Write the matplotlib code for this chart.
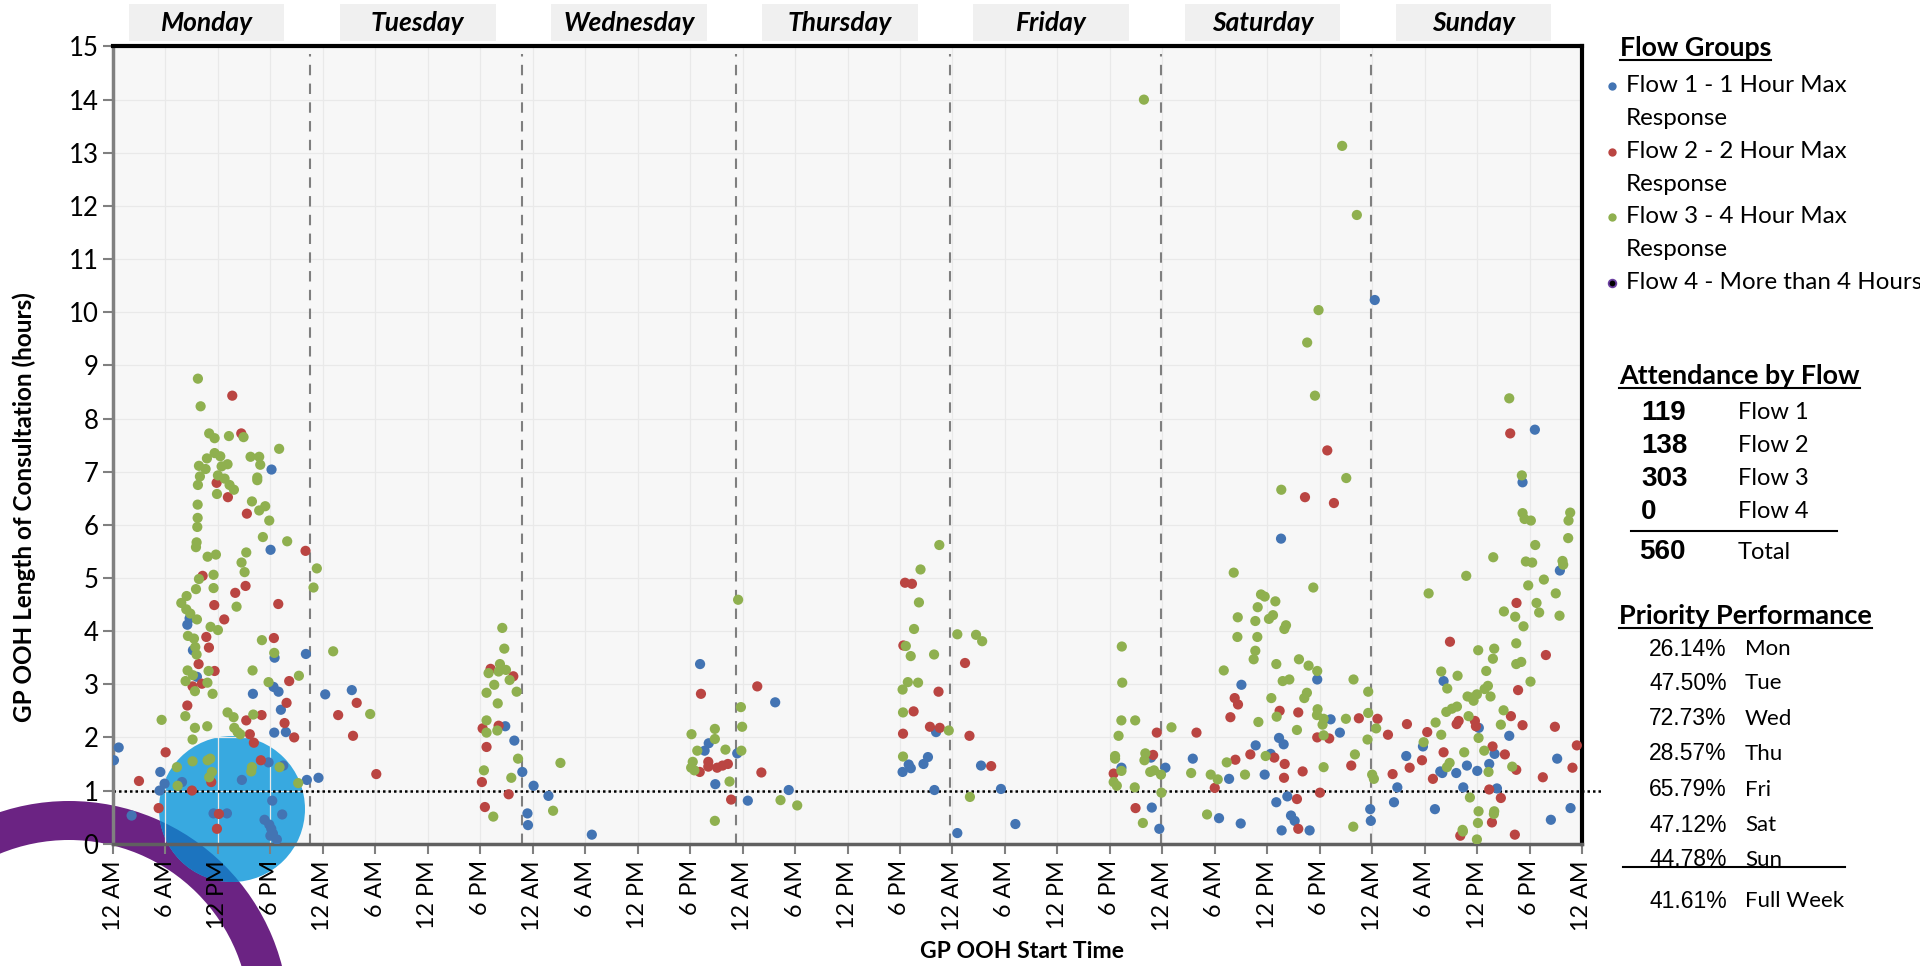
import matplotlib
matplotlib.use("Agg")
import matplotlib.pyplot as plt
from matplotlib.patches import Circle, Wedge, Rectangle
from matplotlib.lines import Line2D
from matplotlib.transforms import blended_transform_factory, IdentityTransform

plt.rcParams['font.family'] = ['Lato', 'DejaVu Sans']

# ---------------- data (start hour within the week, consultation length in hours) -------------
flow1 = [(0.11,1.57),(0.65,1.81),(2.13,0.53),(5.33,1.0),(5.41,1.35),(5.9,1.13),(7.89,1.16),(8.5,4.12),(8.76,4.24),
         (9.14,3.64),(9.6,3.14),(11.5,0.57),(13.03,0.57),(14.74,1.20),(16.0,2.82),(17.33,0.45),(17.79,1.53),(17.87,0.36),
         (18.0,0.15),(18.02,5.53),(18.1,0.28),(18.13,7.04),(18.21,0.81),(18.29,0.19),(18.36,2.95),(18.44,2.09),(18.48,3.50),
         (18.74,0.08),(18.93,2.86),(19.2,2.52),(19.35,0.55),(19.47,1.47),(19.77,2.10),(22.06,3.57),(22.17,1.20),(23.5,1.24),
         (24.27,2.81),(27.31,2.89),(44.86,2.21),(45.9,1.94),(46.81,1.35),(47.4,0.57),(47.46,0.35),(48.1,1.09),(49.8,0.90),
         (54.76,0.17),(67.14,3.38),(67.66,1.75),(68.13,1.89),(68.88,1.12),(71.39,1.70),(72.6,0.81),(75.73,2.66),(77.28,1.01),
         (90.3,1.35),(91.0,1.49),(91.24,1.42),(92.69,1.50),(93.2,1.63),(93.94,1.01),(94.13,2.10),(96.56,0.20),(99.27,1.47),
         (101.55,1.03),(103.2,0.37),(115.33,1.43),(118.71,1.62),(118.8,0.68),(119.66,0.28),(120.36,1.43),(123.49,1.60),
         (126.49,0.48),(127.64,1.22),(128.97,0.38),(129.05,2.99),(130.68,1.85),(131.71,1.30),(132.39,1.69),(133.04,0.78),
         (133.35,1.99),(133.58,5.74),(133.65,0.25),(133.88,1.87),(134.3,0.89),(134.72,0.53),(135.14,0.43),(136.85,0.25),
         (137.72,3.09),(139.25,2.34),(140.31,2.09),(143.78,0.65),(143.85,0.43),(144.3,10.23),(146.5,0.78),(146.88,1.06),
         (147.9,1.65),(149.81,1.83),(151.18,0.65),(151.79,1.36),(152.02,1.33),(152.17,3.06),(153.62,1.33),(154.42,1.06),
         (154.84,1.47),(156.02,1.37),(156.2,2.18),(157.39,1.50),(158.0,1.69),(158.27,1.04),(159.68,2.03),(161.2,6.80),
         (162.61,7.79),(164.44,0.45),(165.16,1.60),(165.47,5.14),(166.69,0.67)]

flow2 = [(2.97,1.18),(5.22,0.67),(6.02,1.72),(8.5,2.60),(9.03,1.0),(9.1,2.96),(9.79,3.38),(10.17,3.01),(10.25,5.04),
         (10.67,3.89),(10.97,3.69),(11.24,1.16),(11.58,4.49),(11.62,3.25),(11.85,6.79),(11.89,0.28),(12.11,0.56),(12.72,4.22),
         (13.14,6.52),(13.64,8.43),(13.98,4.72),(14.67,7.72),(15.16,4.85),(15.24,2.32),(15.31,6.21),(15.65,2.06),(16.11,1.90),
         (16.91,1.57),(16.99,2.42),(18.4,3.87),(18.9,4.51),(19.62,2.27),(19.85,2.65),(20.15,3.06),(20.72,2.0),(22.02,5.51),
         (25.75,2.42),(27.45,2.03),(27.87,2.65),(30.11,1.31),(42.19,1.16),(42.27,2.17),(42.53,0.69),(42.72,1.82),(43.18,3.29),
         (44.1,2.22),(45.25,0.93),(45.78,3.15),(67.1,1.35),(67.24,2.82),(68.08,1.54),(68.08,1.45),(69.09,1.43),(69.71,1.47),
         (70.32,1.50),(70.69,0.83),(73.68,2.96),(74.15,1.34),(90.35,2.07),(90.39,3.73),(90.58,4.91),(91.37,4.89),(91.56,2.49),
         (93.43,2.20),(94.41,2.86),(94.55,2.18),(97.44,3.40),(97.95,2.03),(100.43,1.46),(114.44,1.32),(116.94,0.67),
         (118.95,1.67),(119.37,2.09),(123.91,2.09),(126.0,1.05),(127.79,2.38),(128.28,2.74),(128.36,1.58),(128.66,2.62),
         (130.07,1.68),(132.81,1.62),(133.42,2.50),(133.92,1.24),(134.0,1.50),(135.4,0.84),(135.55,2.47),(135.55,0.28),
         (136.05,1.36),(136.32,6.52),(137.72,2.0),(138.03,0.96),(138.87,7.40),(139.09,1.98),(139.63,6.41),(141.61,1.47),
         (142.48,2.36),(144.61,2.35),(145.81,2.05),(146.34,1.31),(147.98,2.25),(148.29,1.43),(149.7,1.57),(150.3,2.10),
         (150.95,1.22),(152.17,1.72),(152.9,3.80),(153.66,2.25),(153.89,2.31),(154.08,0.15),(155.75,2.31),(155.87,2.21),
         (157.39,1.02),(157.7,0.40),(157.77,1.83),(158.72,0.86),(159.18,1.68),(159.79,7.72),(159.87,2.40),(160.32,0.17),
         (160.48,1.39),(160.51,4.53),(160.69,2.89),(161.2,2.23),(163.52,1.25),(163.87,3.55),(164.9,2.20),(166.91,1.43),
         (167.41,1.85)]

flow3 = [(9.71,8.75),(10.02,8.23),(11.0,7.72),(11.62,7.63),(13.26,7.67),(14.93,7.65),(19.0,7.43),(11.62,7.35),(12.27,7.29),
         (10.74,7.25),(9.83,7.11),(10.59,7.05),(12.42,7.10),(13.1,7.14),(15.73,7.28),(16.72,7.28),(16.84,7.13),(9.94,6.91),
         (12.0,6.93),(12.76,6.87),(16.5,6.89),(16.5,6.84),(9.71,6.75),(13.33,6.75),(13.83,6.66),(11.89,6.58),(9.68,6.38),
         (15.89,6.44),(16.72,6.27),(17.41,6.35),(9.68,6.13),(9.64,5.96),(17.87,6.08),(17.14,5.77),(19.92,5.69),(9.56,5.67),
         (9.49,5.58),(10.82,5.40),(11.77,5.44),(15.24,5.48),(14.70,5.29),(15.05,5.11),(9.83,4.98),(11.5,5.06),(11.5,4.81),
         (9.49,4.79),(8.42,4.66),(7.81,4.53),(8.38,4.41),(8.84,4.33),(9.6,4.22),(14.13,4.46),(11.16,4.08),(12.0,4.02),
         (8.57,3.91),(9.26,3.86),(9.41,3.70),(9.56,3.56),(17.03,3.83),(18.44,3.59),(8.53,3.26),(9.14,3.17),(10.93,3.25),
         (8.3,3.06),(10.8,3.03),(9.37,2.87),(11.39,2.82),(15.96,3.26),(17.79,3.04),(21.26,3.16),(25.18,3.62),(23.31,5.18),
         (22.93,4.82),(5.56,2.33),(8.27,2.40),(9.37,2.18),(10.78,2.21),(9.1,1.96),(13.1,2.47),(13.79,2.38),(16.04,2.43),
         (13.87,2.18),(14.25,2.10),(14.55,2.06),(7.31,1.44),(9.1,1.55),(10.82,1.57),(11.12,1.60),(11.31,1.35),(11.0,1.25),
         (7.39,1.09),(15.89,1.44),(15.81,1.36),(19.05,1.44),(21.18,1.14),
         (29.41,2.44),(44.52,4.06),(44.75,3.67),(44.25,3.38),(42.95,3.21),(44.1,3.24),(44.94,3.27),(45.36,3.08),(43.6,2.99),
         (42.72,2.84),(46.16,2.86),(44.0,2.64),(42.72,2.32),(42.72,2.09),(43.95,2.13),(46.32,1.60),(42.42,1.38),(45.55,1.24),
         (43.49,0.51),(51.17,1.52),(50.33,0.62),
         (66.16,2.06),(68.83,2.16),(68.83,1.97),(66.82,1.75),(70.04,1.77),(66.3,1.54),(66.12,1.43),(66.49,1.38),(70.51,1.17),
         (68.83,0.43),(71.49,4.59),(71.81,2.57),(71.95,2.20),(71.86,1.75),(76.34,0.82),(78.25,0.72),
         (94.5,5.62),(92.35,5.16),(92.17,4.54),(91.61,4.04),(90.67,3.72),(91.23,3.53),(93.9,3.56),(90.9,3.04),(92.07,3.03),
         (90.3,2.90),(90.35,2.47),(95.58,2.13),(90.35,1.64),(96.56,3.94),(98.7,3.93),(99.4,3.81),(98.0,0.88),
         (117.9,14.0),(115.37,3.71),(115.42,3.03),(115.32,2.32),(116.9,2.32),(115.0,2.03),(114.6,1.65),(114.6,1.60),
         (115.33,1.37),(114.44,1.16),(114.8,1.09),(116.85,1.06),(117.78,0.39),(118.06,1.70),(117.96,1.57),(118.62,1.35),
         (119.05,1.38),(119.85,1.30),(119.9,0.96),
         (140.57,13.13),(142.25,11.83),(137.87,10.04),(136.57,9.43),(137.46,8.43),(141.04,6.88),(133.61,6.66),(128.17,5.10),
         (137.27,4.82),(131.29,4.69),(131.71,4.65),(132.93,4.56),(130.91,4.45),(128.63,4.26),(132.66,4.30),(132.2,4.23),
         (130.64,4.19),(134.15,4.11),(133.96,4.04),(128.59,3.89),(130.87,3.89),(130.64,3.63),(130.45,3.47),(133.04,3.38),
         (135.63,3.47),(136.73,3.35),(137.72,3.25),(127.03,3.26),(133.77,3.06),(134.53,3.09),(141.87,3.09),(143.55,2.86),
         (136.54,2.84),(136.24,2.74),(132.47,2.74),(133.08,2.39),(130.99,2.29),(137.76,2.53),(137.69,2.42),(138.45,2.35),
         (138.33,2.24),(141.0,2.35),(143.55,2.46),(138.45,2.04),(135.4,2.14),(144.46,2.17),(143.47,1.96),(121.05,2.19),
         (123.3,1.33),(125.54,1.30),(126.34,1.21),(127.37,1.53),(129.46,1.30),(131.82,1.65),(138.45,1.44),(142.03,1.68),
         (144.0,1.30),(144.2,1.22),(125.12,0.55),(141.84,0.32),
         (159.68,8.38),(161.12,6.93),(161.2,6.22),(161.43,6.11),(162.15,6.08),(166.65,6.23),(166.46,6.08),(166.42,5.75),
         (162.65,5.62),(157.85,5.39),(161.58,5.31),(162.3,5.29),(165.77,5.32),(165.85,5.25),(154.76,5.04),(163.64,4.97),
         (161.85,4.86),(150.46,4.71),(165.0,4.71),(162.8,4.53),(163.1,4.35),(159.07,4.37),(160.36,4.27),(165.43,4.29),
         (161.31,4.09),(160.48,3.77),(156.13,3.64),(157.96,3.67),(157.81,3.48),(160.48,3.38),(161.05,3.42),(157.05,3.25),
         (151.9,3.24),(153.77,3.16),(162.11,3.05),(152.59,2.92),(157.24,2.97),(156.86,2.91),(157.54,2.77),(154.91,2.77),
         (155.41,2.75),(155.98,2.81),(155.6,2.69),(153.7,2.58),(153.12,2.54),(152.48,2.48),(159.03,2.51),(155.03,2.40),
         (151.26,2.28),(158.72,2.24),(151.9,2.05),(149.89,1.91),(156.17,1.99),(156.82,1.75),(154.53,1.72),(152.86,1.52),
         (152.55,1.44),(157.31,1.35),(160.02,1.45),(155.18,0.87),(156.17,0.61),(157.96,0.61),(157.92,0.56),(156.1,0.39),
         (154.34,0.26),(154.38,0.23),(155.98,0.08)]

flow4 = []

days = ["Monday", "Tuesday", "Wednesday", "Thursday", "Friday", "Saturday", "Sunday"]
day_dividers = [22.55, 46.8, 71.2, 95.7, 119.8, 143.9]
hour_tick_labels = ["12 AM", "6 AM", "12 PM", "6 PM"]
target_hours = 1.0

legend_labels = ["Flow 1 - 1 Hour Max\nResponse", "Flow 2 - 2 Hour Max\nResponse",
                 "Flow 3 - 4 Hour Max\nResponse", "Flow 4 - More than 4 Hours"]
attendance_counts = ["119", "138", "303", "0"]
attendance_labels = ["Flow 1", "Flow 2", "Flow 3", "Flow 4"]
attendance_total = "560"
priority_pct = ["26.14%", "47.50%", "72.73%", "28.57%", "65.79%", "47.12%", "44.78%"]
priority_days = ["Mon", "Tue", "Wed", "Thu", "Fri", "Sat", "Sun"]
priority_week = "41.61%"

colors = ["#4374B3", "#BA4542", "#8FB04F", "#000000"]

# ---------------- figure ----------------
W, H = 1920, 966
fig = plt.figure(figsize=(W / 100, H / 100), dpi=100)
ax = fig.add_axes([113 / W, 1 - 843.7 / H, (1582 - 113) / W, (843.7 - 46.5) / H])
ax.set_facecolor("#f7f7f7")

def px(x, y):
    return (x / 100, (H - y) / 100)

# decorative shapes (pixel based)
ring = Wedge(px(69, 1021), 2.20, 0, 360, width=0.39, facecolor="#6B2383", edgecolor="none",
             transform=fig.dpi_scale_trans, clip_on=False, zorder=1.0)
ax.add_patch(ring)
circ = Circle(px(232, 809), 0.73, facecolor="#38A9E0", edgecolor="none",
              transform=fig.dpi_scale_trans, clip_on=False, zorder=1.1)
ax.add_patch(circ)
overlap = Wedge(px(69, 1021), 2.20, 0, 360, width=0.39, facecolor="#1C74BF", edgecolor="none",
                transform=fig.dpi_scale_trans, zorder=1.2)
overlap.set_clip_path(circ)
ax.add_patch(overlap)

# scatter
for pts, col in zip([flow1, flow2, flow3], colors[:3]):
    xs = [p[0] for p in pts]
    ys = [p[1] for p in pts]
    ax.scatter(xs, ys, s=54, c=col, edgecolors="none", zorder=3)

ax.set_xlim(0, 168)
ax.set_ylim(0, 15)
ax.set_xticks(range(0, 169, 6))
ax.set_xticklabels([hour_tick_labels[(i // 6) % 4] for i in range(0, 169, 6)], rotation=90)
ax.set_yticks(range(0, 16))
ax.tick_params(axis="both", direction="out", length=7, width=1.5, color="#808080")
ax.tick_params(axis="y", labelsize=18.5)
ax.tick_params(axis="x", labelsize=16.8, pad=5)
ax.grid(True, color="#e9e9e9", lw=0.9)

for s in ["top", "right"]:
    ax.spines[s].set_color("black")
    ax.spines[s].set_linewidth(3)
ax.spines["left"].set_color("#808080")
ax.spines["left"].set_linewidth(2.5)
ax.spines["bottom"].set_color("#606060")
ax.spines["bottom"].set_linewidth(2.5)

for d in day_dividers:
    ax.plot([d, d], [0, 14.85], ls=(0, (5, 4)), color="#7f7f7f", lw=1.5, zorder=2, clip_on=False)

ax.plot([0, 170.3], [target_hours, target_hours], ls=(0, (1, 1.2)), color="black", lw=1.8,
        zorder=2.2, clip_on=False)

# day header boxes
bt = blended_transform_factory(ax.transData, fig.transFigure)
for i, d in enumerate(days):
    c = 10.7 + 24.15 * i
    ax.add_patch(Rectangle((c - 8.9, 1 - 41 / H), 17.8, 37 / H, transform=bt, facecolor="#f0f0f0",
                           edgecolor="none", clip_on=False, zorder=1))
    ax.text(c, 1 - 23 / H, d, transform=bt, ha="center", va="center", fontsize=19,
            fontweight="bold", fontstyle="italic")

fig.text(24.5 / W, 1 - 507 / H, "GP OOH Length of Consultation (hours)", rotation=90,
         ha="center", va="center", fontsize=17.5, fontweight="bold")
fig.text(1022 / W, 1 - 951 / H, "GP OOH Start Time", ha="center", va="center",
         fontsize=16.6, fontweight="bold")

# ---------------- right panel ----------------
renderer = fig.canvas.get_renderer()

def ftext(x, y, s, **kw):
    return fig.text(x / W, 1 - y / H, s, **kw)

def underlined(x, y, s, **kw):
    t = ftext(x, y, s, va="baseline", **kw)
    bb = t.get_window_extent(renderer=renderer)
    yy = H - y - 4
    fig.add_artist(Line2D([bb.x0, bb.x1], [yy, yy], transform=IdentityTransform(), color="black", lw=1.5))
    return t

def hline(x0, x1, y, lw=1.5):
    fig.add_artist(Line2D([x0, x1], [H - y, H - y], transform=IdentityTransform(), color="black", lw=lw))

underlined(1620, 56, "Flow Groups", fontsize=19.3, fontweight="bold")
leg_y = [85.7, 151.8, 216.7, 282.9]
for lab, yy, col in zip(legend_labels, leg_y, colors):
    lines = lab.split("\n")
    for k, ln in enumerate(lines):
        ftext(1626, yy + 33 * k, ln, va="center", fontsize=17.4)
    if col == "#000000":
        fig.add_artist(Line2D([1611.5], [H - yy], transform=IdentityTransform(), marker="o", ms=5.5,
                              mfc="black", mec="#6B3FA0", mew=1.3))
    else:
        fig.add_artist(Line2D([1611.5], [H - yy], transform=IdentityTransform(), marker="o", ms=6,
                              mfc=col, mec="none"))

underlined(1619, 384, "Attendance by Flow", fontsize=19.4, fontweight="bold")
att_y = [412.7, 445.7, 478.8, 511.8]
for n, lab, yy in zip(attendance_counts, attendance_labels, att_y):
    ftext(1641, yy, n, va="center", fontsize=20, fontweight="bold", family="Liberation Sans")
    ftext(1737.6, yy, lab, va="center", fontsize=17)
hline(1631, 1837, 531.4)
ftext(1639, 552.3, attendance_total, va="center", fontsize=20, fontweight="bold", family="Liberation Sans")
ftext(1737.6, 552.3, "Total", va="center", fontsize=17)

underlined(1619, 624, "Priority Performance", fontsize=19.5, fontweight="bold")
pr_y = [649, 683, 718.8, 754, 789.8, 825, 859.6]
for p, dname, yy in zip(priority_pct, priority_days, pr_y):
    ftext(1649, yy, p, va="center", fontsize=16.5, family="Liberation Sans")
    ftext(1745, yy, dname, va="center", fontsize=16)
hline(1622.5, 1845.4, 867)
ftext(1649, 901, priority_week, va="center", fontsize=16.5, family="Liberation Sans")
ftext(1745, 901, "Full Week", va="center", fontsize=16)

fig.savefig("out.png", dpi=100)
